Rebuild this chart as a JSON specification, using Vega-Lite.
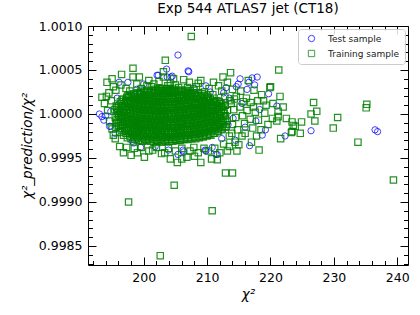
{
"$schema": "https://vega.github.io/schema/vega-lite/v6.json",
"width": 320, "height": 239,
"autosize": "none",
"padding": {"left": 88, "top": 26, "right": 12, "bottom": 50},
"config": {
  "font": "DejaVu Sans",
  "view": {"stroke": "black", "strokeWidth": 1},
  "axis": {"grid": false, "domain": false, "tickColor": "black", "labelColor": "black", "titleColor": "black", "labelFontSize": 12.5, "titleFontSize": 13.5, "titleFontWeight": "normal", "tickWidth": 1},
  "legend": {"orient": "top-right", "offset": 3, "padding": 5, "strokeColor": "#cccccc", "fillColor": "rgba(255,255,255,0.85)", "cornerRadius": 3, "labelFontSize": 9, "labelColor": "#222222", "symbolSize": 40, "symbolStrokeWidth": 1, "rowPadding": 4, "labelOffset": 12, "symbolOffset": 4}
},
"title": {"text": "Exp 544 ATLAS7 jet (CT18)", "fontSize": 13.5, "fontWeight": "normal", "offset": 5, "color": "black"},
"datasets": {
"test": [{"x":205.4,"y":1.00067},{"x":203.6,"y":1.00051},{"x":207,"y":1.00049},{"x":204.3,"y":1.00042},{"x":202.1,"y":1.00044},{"x":197.5,"y":1.00036},{"x":196.1,"y":1.00036},{"x":209.8,"y":1.00032},{"x":215.2,"y":1.0004},{"x":216.6,"y":1.00036},{"x":214.6,"y":1.00031},{"x":217.9,"y":1.00042},{"x":217.1,"y":1.00041},{"x":221,"y":1.00009},{"x":226.4,"y":0.99981},{"x":222.3,"y":0.99975},{"x":236.5,"y":0.99982},{"x":236.9,"y":0.9998},{"x":218.7,"y":0.99976},{"x":216.7,"y":0.99964},{"x":211.4,"y":0.99954},{"x":209.7,"y":0.99959},{"x":205.4,"y":0.99954},{"x":206.3,"y":0.99957},{"x":209.8,"y":0.99958},{"x":211.6,"y":0.99954},{"x":198.4,"y":0.99967},{"x":203.9,"y":0.99959},{"x":194.6,"y":0.99986},{"x":194,"y":0.99998},{"x":194.8,"y":1.00003},{"x":194.8,"y":0.99986},{"x":193,"y":1},{"x":193.4,"y":0.99997},{"x":193.7,"y":0.99993},{"x":200,"y":1.00034},{"x":202.3,"y":1.00044},{"x":203.7,"y":1.00042},{"x":204.5,"y":1.00043},{"x":207.1,"y":1.00048},{"x":212.6,"y":1.00024},{"x":217.5,"y":1.00033},{"x":219.7,"y":1.00023},{"x":206.2,"y":0.99959},{"x":210.8,"y":0.99962},{"x":213.5,"y":1.00018},{"x":214.1,"y":0.99995},{"x":215.5,"y":1.00012},{"x":216,"y":0.99985},{"x":212.3,"y":0.99972},{"x":199.5,"y":0.99962},{"x":201.8,"y":0.99963},{"x":208,"y":1.00029},{"x":210.5,"y":1.00025},{"x":198.9,"y":1.00028},{"x":213,"y":1.0003},{"x":214.9,"y":1.00034},{"x":216.3,"y":1.00028},{"x":218.3,"y":1.00005},{"x":217.7,"y":0.99992},{"x":219.2,"y":0.99982},{"x":198.2,"y":0.99969},{"x":195.5,"y":0.99978},{"x":195.8,"y":1.00018},{"x":202,"y":1.0001},{"x":206,"y":0.9999},{"x":209,"y":1.00005},{"x":204,"y":0.99975},{"x":214.5,"y":0.9997},{"x":213.3,"y":0.99988}],
"train": [
{"x":195.6,"y":0.99985},{"x":195.75,"y":0.9999},{"x":195.5,"y":0.99996},{"x":195.8,"y":1.00001},{"x":195.45,"y":1.00005},{"x":195.65,"y":1.00009},
{"x":196.2,"y":0.99979},{"x":196.35,"y":0.99984},{"x":196.1,"y":0.99989},{"x":196.4,"y":0.99994},{"x":196.05,"y":0.99999},{"x":196.25,"y":1.00004},{"x":196,"y":1.00009},{"x":196.3,"y":1.00014},
{"x":196.8,"y":0.99976},{"x":196.95,"y":0.99981},{"x":196.7,"y":0.99987},{"x":197,"y":0.99992},{"x":196.65,"y":0.99997},{"x":196.85,"y":1.00002},{"x":196.6,"y":1.00007},{"x":196.9,"y":1.00012},{"x":196.75,"y":1.00017},
{"x":197.4,"y":0.99973},{"x":197.55,"y":0.99978},{"x":197.3,"y":0.99983},{"x":197.6,"y":0.99988},{"x":197.25,"y":0.99993},{"x":197.45,"y":0.99998},{"x":197.2,"y":1.00003},{"x":197.5,"y":1.00008},{"x":197.35,"y":1.00013},{"x":197.6,"y":1.00019},
{"x":198,"y":0.99972},{"x":198.15,"y":0.99977},{"x":197.9,"y":0.99982},{"x":198.2,"y":0.99987},{"x":197.85,"y":0.99992},{"x":198.05,"y":0.99997},{"x":197.8,"y":1.00002},{"x":198.1,"y":1.00007},{"x":197.95,"y":1.00012},{"x":198.2,"y":1.00017},{"x":197.9,"y":1.00021},
{"x":198.6,"y":0.99971},{"x":198.75,"y":0.99976},{"x":198.5,"y":0.99981},{"x":198.8,"y":0.99986},{"x":198.45,"y":0.99991},{"x":198.65,"y":0.99996},{"x":198.4,"y":1.00001},{"x":198.7,"y":1.00006},{"x":198.55,"y":1.00011},{"x":198.8,"y":1.00016},{"x":198.5,"y":1.00022},
{"x":199.2,"y":0.9997},{"x":199.35,"y":0.99975},{"x":199.1,"y":0.9998},{"x":199.4,"y":0.99985},{"x":199.05,"y":0.9999},{"x":199.25,"y":0.99995},{"x":199,"y":1},{"x":199.3,"y":1.00005},{"x":199.15,"y":1.0001},{"x":199.4,"y":1.00015},{"x":199.1,"y":1.0002},{"x":199.35,"y":1.00023},
{"x":199.8,"y":0.99969},{"x":199.95,"y":0.99974},{"x":199.7,"y":0.99979},{"x":200,"y":0.99984},{"x":199.65,"y":0.99989},{"x":199.85,"y":0.99994},{"x":199.6,"y":0.99999},{"x":199.9,"y":1.00004},{"x":199.75,"y":1.00009},{"x":200,"y":1.00014},{"x":199.7,"y":1.00019},{"x":199.95,"y":1.00024},
{"x":200.4,"y":0.9997},{"x":200.55,"y":0.99975},{"x":200.3,"y":0.9998},{"x":200.6,"y":0.99985},{"x":200.25,"y":0.9999},{"x":200.45,"y":0.99995},{"x":200.2,"y":1},{"x":200.5,"y":1.00005},{"x":200.35,"y":1.0001},{"x":200.6,"y":1.00015},{"x":200.3,"y":1.0002},{"x":200.55,"y":1.00025},
{"x":201,"y":0.99969},{"x":201.15,"y":0.99974},{"x":200.9,"y":0.99979},{"x":201.2,"y":0.99984},{"x":200.85,"y":0.99989},{"x":201.05,"y":0.99994},{"x":200.8,"y":0.99999},{"x":201.1,"y":1.00004},{"x":200.95,"y":1.00009},{"x":201.2,"y":1.00014},{"x":200.9,"y":1.00019},{"x":201.15,"y":1.00024},
{"x":201.6,"y":0.99968},{"x":201.75,"y":0.99973},{"x":201.5,"y":0.99978},{"x":201.8,"y":0.99983},{"x":201.45,"y":0.99988},{"x":201.65,"y":0.99993},{"x":201.4,"y":0.99998},{"x":201.7,"y":1.00003},{"x":201.55,"y":1.00008},{"x":201.8,"y":1.00013},{"x":201.5,"y":1.00018},{"x":201.75,"y":1.00023},{"x":201.6,"y":1.00026},
{"x":202.2,"y":0.99969},{"x":202.35,"y":0.99974},{"x":202.1,"y":0.99979},{"x":202.4,"y":0.99984},{"x":202.05,"y":0.99989},{"x":202.25,"y":0.99994},{"x":202,"y":0.99999},{"x":202.3,"y":1.00004},{"x":202.15,"y":1.00009},{"x":202.4,"y":1.00014},{"x":202.1,"y":1.00019},{"x":202.35,"y":1.00024},{"x":202.2,"y":1.00027},
{"x":202.8,"y":0.99968},{"x":202.95,"y":0.99973},{"x":202.7,"y":0.99978},{"x":203,"y":0.99983},{"x":202.65,"y":0.99988},{"x":202.85,"y":0.99993},{"x":202.6,"y":0.99998},{"x":202.9,"y":1.00003},{"x":202.75,"y":1.00008},{"x":203,"y":1.00013},{"x":202.7,"y":1.00018},{"x":202.95,"y":1.00023},{"x":202.8,"y":1.00027},
{"x":203.4,"y":0.99969},{"x":203.55,"y":0.99974},{"x":203.3,"y":0.99979},{"x":203.6,"y":0.99984},{"x":203.25,"y":0.99989},{"x":203.45,"y":0.99994},{"x":203.2,"y":0.99999},{"x":203.5,"y":1.00004},{"x":203.35,"y":1.00009},{"x":203.6,"y":1.00014},{"x":203.3,"y":1.00019},{"x":203.55,"y":1.00024},{"x":203.4,"y":1.00027},
{"x":204,"y":0.99969},{"x":204.15,"y":0.99974},{"x":203.9,"y":0.99979},{"x":204.2,"y":0.99984},{"x":203.85,"y":0.99989},{"x":204.05,"y":0.99994},{"x":203.8,"y":0.99999},{"x":204.1,"y":1.00004},{"x":203.95,"y":1.00009},{"x":204.2,"y":1.00014},{"x":203.9,"y":1.00019},{"x":204.15,"y":1.00024},{"x":204,"y":1.00027},
{"x":204.6,"y":0.99969},{"x":204.75,"y":0.99974},{"x":204.5,"y":0.99979},{"x":204.8,"y":0.99984},{"x":204.45,"y":0.99989},{"x":204.65,"y":0.99994},{"x":204.4,"y":0.99999},{"x":204.7,"y":1.00004},{"x":204.55,"y":1.00009},{"x":204.8,"y":1.00014},{"x":204.5,"y":1.00019},{"x":204.75,"y":1.00024},{"x":204.6,"y":1.00026},
{"x":205.2,"y":0.9997},{"x":205.35,"y":0.99975},{"x":205.1,"y":0.9998},{"x":205.4,"y":0.99985},{"x":205.05,"y":0.9999},{"x":205.25,"y":0.99995},{"x":205,"y":1},{"x":205.3,"y":1.00005},{"x":205.15,"y":1.0001},{"x":205.4,"y":1.00015},{"x":205.1,"y":1.0002},{"x":205.35,"y":1.00025},
{"x":205.8,"y":0.9997},{"x":205.95,"y":0.99975},{"x":205.7,"y":0.9998},{"x":206,"y":0.99985},{"x":205.65,"y":0.9999},{"x":205.85,"y":0.99995},{"x":205.6,"y":1},{"x":205.9,"y":1.00005},{"x":205.75,"y":1.0001},{"x":206,"y":1.00015},{"x":205.7,"y":1.0002},{"x":205.95,"y":1.00025},
{"x":206.4,"y":0.99971},{"x":206.55,"y":0.99976},{"x":206.3,"y":0.99981},{"x":206.6,"y":0.99986},{"x":206.25,"y":0.99991},{"x":206.45,"y":0.99996},{"x":206.2,"y":1.00001},{"x":206.5,"y":1.00006},{"x":206.35,"y":1.00011},{"x":206.6,"y":1.00016},{"x":206.3,"y":1.00021},{"x":206.55,"y":1.00025},
{"x":207,"y":0.99971},{"x":207.15,"y":0.99976},{"x":206.9,"y":0.99981},{"x":207.2,"y":0.99986},{"x":206.85,"y":0.99991},{"x":207.05,"y":0.99996},{"x":206.8,"y":1.00001},{"x":207.1,"y":1.00006},{"x":206.95,"y":1.00011},{"x":207.2,"y":1.00016},{"x":206.9,"y":1.00021},{"x":207.15,"y":1.00024},
{"x":207.6,"y":0.99972},{"x":207.75,"y":0.99977},{"x":207.5,"y":0.99982},{"x":207.8,"y":0.99987},{"x":207.45,"y":0.99992},{"x":207.65,"y":0.99997},{"x":207.4,"y":1.00002},{"x":207.7,"y":1.00007},{"x":207.55,"y":1.00012},{"x":207.8,"y":1.00017},{"x":207.5,"y":1.00022},
{"x":208.2,"y":0.99972},{"x":208.35,"y":0.99977},{"x":208.1,"y":0.99982},{"x":208.4,"y":0.99987},{"x":208.05,"y":0.99992},{"x":208.25,"y":0.99997},{"x":208,"y":1.00002},{"x":208.3,"y":1.00007},{"x":208.15,"y":1.00012},{"x":208.4,"y":1.00017},{"x":208.1,"y":1.00022},
{"x":208.8,"y":0.99973},{"x":208.95,"y":0.99978},{"x":208.7,"y":0.99983},{"x":209,"y":0.99988},{"x":208.65,"y":0.99993},{"x":208.85,"y":0.99998},{"x":208.6,"y":1.00003},{"x":208.9,"y":1.00008},{"x":208.75,"y":1.00013},{"x":209,"y":1.00018},{"x":208.7,"y":1.00021},
{"x":209.4,"y":0.99974},{"x":209.55,"y":0.99979},{"x":209.3,"y":0.99984},{"x":209.6,"y":0.99989},{"x":209.25,"y":0.99994},{"x":209.45,"y":0.99999},{"x":209.2,"y":1.00004},{"x":209.5,"y":1.00009},{"x":209.35,"y":1.00014},{"x":209.6,"y":1.00019},
{"x":210,"y":0.99975},{"x":210.15,"y":0.9998},{"x":209.9,"y":0.99985},{"x":210.2,"y":0.9999},{"x":209.85,"y":0.99995},{"x":210.05,"y":1},{"x":209.8,"y":1.00005},{"x":210.1,"y":1.0001},{"x":209.95,"y":1.00015},{"x":210.2,"y":1.00018},
{"x":210.6,"y":0.99976},{"x":210.75,"y":0.99981},{"x":210.5,"y":0.99986},{"x":210.8,"y":0.99991},{"x":210.45,"y":0.99996},{"x":210.65,"y":1.00001},{"x":210.4,"y":1.00006},{"x":210.7,"y":1.00011},{"x":210.55,"y":1.00016},
{"x":211.2,"y":0.99978},{"x":211.35,"y":0.99983},{"x":211.1,"y":0.99988},{"x":211.4,"y":0.99993},{"x":211.05,"y":0.99998},{"x":211.25,"y":1.00003},{"x":211,"y":1.00008},{"x":211.3,"y":1.00013},
{"x":211.8,"y":0.9998},{"x":211.95,"y":0.99985},{"x":211.7,"y":0.9999},{"x":212,"y":0.99995},{"x":211.65,"y":1},{"x":211.85,"y":1.00005},{"x":211.6,"y":1.0001},{"x":211.9,"y":1.00014},
{"x":212.4,"y":0.99983},{"x":212.55,"y":0.99988},{"x":212.3,"y":0.99993},{"x":212.6,"y":0.99998},{"x":212.25,"y":1.00003},{"x":212.45,"y":1.00008},{"x":212.2,"y":1.00012},
{"x":213,"y":0.99986},{"x":213.15,"y":0.99992},{"x":212.9,"y":0.99998},{"x":213.2,"y":1.00004},{"x":212.85,"y":1.0001},
{"x":196,"y":0.99987},{"x":195.8,"y":0.99993},{"x":196.1,"y":0.99998},{"x":195.9,"y":1.00003},{"x":195.75,"y":1.00007},
{"x":196.6,"y":0.99981},{"x":196.4,"y":0.99987},{"x":196.7,"y":0.99991},{"x":196.5,"y":0.99997},{"x":196.35,"y":1.00002},{"x":196.65,"y":1.00007},{"x":196.45,"y":1.00012},{"x":196.55,"y":1.00016},
{"x":197.2,"y":0.99978},{"x":197,"y":0.99984},{"x":197.3,"y":0.99989},{"x":197.1,"y":0.99995},{"x":196.95,"y":1},{"x":197.25,"y":1.00005},{"x":197.05,"y":1.00009},{"x":197.15,"y":1.00015},{"x":197.3,"y":1.00019},
{"x":197.8,"y":0.99975},{"x":197.6,"y":0.99981},{"x":197.9,"y":0.99985},{"x":197.7,"y":0.99991},{"x":197.55,"y":0.99995},{"x":197.85,"y":1.00001},{"x":197.65,"y":1.00005},{"x":197.75,"y":1.00011},{"x":197.9,"y":1.00015},{"x":197.5,"y":1.00021},
{"x":198.4,"y":0.99974},{"x":198.2,"y":0.9998},{"x":198.5,"y":0.99984},{"x":198.3,"y":0.9999},{"x":198.15,"y":0.99994},{"x":198.45,"y":1},{"x":198.25,"y":1.00004},{"x":198.35,"y":1.0001},{"x":198.5,"y":1.00014},{"x":198.1,"y":1.0002},{"x":198.4,"y":1.00023},
{"x":199,"y":0.99973},{"x":198.8,"y":0.99979},{"x":199.1,"y":0.99983},{"x":198.9,"y":0.99989},{"x":198.75,"y":0.99993},{"x":199.05,"y":0.99999},{"x":198.85,"y":1.00003},{"x":198.95,"y":1.00009},{"x":199.1,"y":1.00013},{"x":198.7,"y":1.00019},{"x":199,"y":1.00024},
{"x":199.6,"y":0.99972},{"x":199.4,"y":0.99978},{"x":199.7,"y":0.99982},{"x":199.5,"y":0.99988},{"x":199.35,"y":0.99992},{"x":199.65,"y":0.99998},{"x":199.45,"y":1.00002},{"x":199.55,"y":1.00008},{"x":199.7,"y":1.00012},{"x":199.3,"y":1.00018},{"x":199.6,"y":1.00022},{"x":199.5,"y":1.00025},
{"x":200.2,"y":0.99971},{"x":200,"y":0.99977},{"x":200.3,"y":0.99981},{"x":200.1,"y":0.99987},{"x":199.95,"y":0.99991},{"x":200.25,"y":0.99997},{"x":200.05,"y":1.00001},{"x":200.15,"y":1.00007},{"x":200.3,"y":1.00011},{"x":199.9,"y":1.00017},{"x":200.2,"y":1.00021},{"x":200.1,"y":1.00026},
{"x":200.8,"y":0.99972},{"x":200.6,"y":0.99978},{"x":200.9,"y":0.99982},{"x":200.7,"y":0.99988},{"x":200.55,"y":0.99992},{"x":200.85,"y":0.99998},{"x":200.65,"y":1.00002},{"x":200.75,"y":1.00008},{"x":200.9,"y":1.00012},{"x":200.5,"y":1.00018},{"x":200.8,"y":1.00022},{"x":200.7,"y":1.00027},
{"x":201.4,"y":0.99971},{"x":201.2,"y":0.99977},{"x":201.5,"y":0.99981},{"x":201.3,"y":0.99987},{"x":201.15,"y":0.99991},{"x":201.45,"y":0.99997},{"x":201.25,"y":1.00001},{"x":201.35,"y":1.00007},{"x":201.5,"y":1.00011},{"x":201.1,"y":1.00017},{"x":201.4,"y":1.00021},{"x":201.3,"y":1.00026},
{"x":202,"y":0.9997},{"x":201.8,"y":0.99976},{"x":202.1,"y":0.9998},{"x":201.9,"y":0.99986},{"x":201.75,"y":0.9999},{"x":202.05,"y":0.99996},{"x":201.85,"y":1},{"x":201.95,"y":1.00006},{"x":202.1,"y":1.0001},{"x":201.7,"y":1.00016},{"x":202,"y":1.0002},{"x":201.9,"y":1.00026},{"x":201.8,"y":1.00028},
{"x":202.6,"y":0.99971},{"x":202.4,"y":0.99977},{"x":202.7,"y":0.99981},{"x":202.5,"y":0.99987},{"x":202.35,"y":0.99991},{"x":202.65,"y":0.99997},{"x":202.45,"y":1.00001},{"x":202.55,"y":1.00007},{"x":202.7,"y":1.00011},{"x":202.3,"y":1.00017},{"x":202.6,"y":1.00021},{"x":202.5,"y":1.00026},{"x":202.4,"y":1.00029},
{"x":203.2,"y":0.9997},{"x":203,"y":0.99976},{"x":203.3,"y":0.9998},{"x":203.1,"y":0.99986},{"x":202.95,"y":0.9999},{"x":203.25,"y":0.99996},{"x":203.05,"y":1},{"x":203.15,"y":1.00006},{"x":203.3,"y":1.0001},{"x":202.9,"y":1.00016},{"x":203.2,"y":1.0002},{"x":203.1,"y":1.00026},{"x":203,"y":1.00029},
{"x":203.8,"y":0.99971},{"x":203.6,"y":0.99977},{"x":203.9,"y":0.99981},{"x":203.7,"y":0.99987},{"x":203.55,"y":0.99991},{"x":203.85,"y":0.99997},{"x":203.65,"y":1.00001},{"x":203.75,"y":1.00007},{"x":203.9,"y":1.00011},{"x":203.5,"y":1.00017},{"x":203.8,"y":1.00021},{"x":203.7,"y":1.00026},{"x":203.6,"y":1.00029},
{"x":204.4,"y":0.99971},{"x":204.2,"y":0.99977},{"x":204.5,"y":0.99981},{"x":204.3,"y":0.99987},{"x":204.15,"y":0.99991},{"x":204.45,"y":0.99997},{"x":204.25,"y":1.00001},{"x":204.35,"y":1.00007},{"x":204.5,"y":1.00011},{"x":204.1,"y":1.00017},{"x":204.4,"y":1.00021},{"x":204.3,"y":1.00026},{"x":204.2,"y":1.00029},
{"x":205,"y":0.99971},{"x":204.8,"y":0.99977},{"x":205.1,"y":0.99981},{"x":204.9,"y":0.99987},{"x":204.75,"y":0.99991},{"x":205.05,"y":0.99997},{"x":204.85,"y":1.00001},{"x":204.95,"y":1.00007},{"x":205.1,"y":1.00011},{"x":204.7,"y":1.00017},{"x":205,"y":1.00021},{"x":204.9,"y":1.00026},{"x":204.8,"y":1.00028},
{"x":205.6,"y":0.99972},{"x":205.4,"y":0.99978},{"x":205.7,"y":0.99982},{"x":205.5,"y":0.99988},{"x":205.35,"y":0.99992},{"x":205.65,"y":0.99998},{"x":205.45,"y":1.00002},{"x":205.55,"y":1.00008},{"x":205.7,"y":1.00012},{"x":205.3,"y":1.00018},{"x":205.6,"y":1.00022},{"x":205.5,"y":1.00027},
{"x":206.2,"y":0.99972},{"x":206,"y":0.99978},{"x":206.3,"y":0.99982},{"x":206.1,"y":0.99988},{"x":205.95,"y":0.99992},{"x":206.25,"y":0.99998},{"x":206.05,"y":1.00002},{"x":206.15,"y":1.00008},{"x":206.3,"y":1.00012},{"x":205.9,"y":1.00018},{"x":206.2,"y":1.00022},{"x":206.1,"y":1.00027},
{"x":206.8,"y":0.99973},{"x":206.6,"y":0.99979},{"x":206.9,"y":0.99983},{"x":206.7,"y":0.99989},{"x":206.55,"y":0.99993},{"x":206.85,"y":0.99999},{"x":206.65,"y":1.00003},{"x":206.75,"y":1.00009},{"x":206.9,"y":1.00013},{"x":206.5,"y":1.00019},{"x":206.8,"y":1.00023},{"x":206.7,"y":1.00027},
{"x":207.4,"y":0.99973},{"x":207.2,"y":0.99979},{"x":207.5,"y":0.99983},{"x":207.3,"y":0.99989},{"x":207.15,"y":0.99993},{"x":207.45,"y":0.99999},{"x":207.25,"y":1.00003},{"x":207.35,"y":1.00009},{"x":207.5,"y":1.00013},{"x":207.1,"y":1.00019},{"x":207.4,"y":1.00023},{"x":207.3,"y":1.00026},
{"x":208,"y":0.99974},{"x":207.8,"y":0.9998},{"x":208.1,"y":0.99984},{"x":207.9,"y":0.9999},{"x":207.75,"y":0.99994},{"x":208.05,"y":1},{"x":207.85,"y":1.00004},{"x":207.95,"y":1.0001},{"x":208.1,"y":1.00014},{"x":207.7,"y":1.0002},{"x":208,"y":1.00024},
{"x":208.6,"y":0.99974},{"x":208.4,"y":0.9998},{"x":208.7,"y":0.99984},{"x":208.5,"y":0.9999},{"x":208.35,"y":0.99994},{"x":208.65,"y":1},{"x":208.45,"y":1.00004},{"x":208.55,"y":1.0001},{"x":208.7,"y":1.00014},{"x":208.3,"y":1.0002},{"x":208.6,"y":1.00024},
{"x":209.2,"y":0.99975},{"x":209,"y":0.99981},{"x":209.3,"y":0.99985},{"x":209.1,"y":0.99991},{"x":208.95,"y":0.99995},{"x":209.25,"y":1.00001},{"x":209.05,"y":1.00005},{"x":209.15,"y":1.00011},{"x":209.3,"y":1.00015},{"x":208.9,"y":1.0002},{"x":209.2,"y":1.00023},
{"x":209.8,"y":0.99976},{"x":209.6,"y":0.99982},{"x":209.9,"y":0.99986},{"x":209.7,"y":0.99992},{"x":209.55,"y":0.99996},{"x":209.85,"y":1.00002},{"x":209.65,"y":1.00006},{"x":209.75,"y":1.00012},{"x":209.9,"y":1.00016},{"x":209.5,"y":1.00021},
{"x":210.4,"y":0.99977},{"x":210.2,"y":0.99983},{"x":210.5,"y":0.99987},{"x":210.3,"y":0.99993},{"x":210.15,"y":0.99997},{"x":210.45,"y":1.00003},{"x":210.25,"y":1.00007},{"x":210.35,"y":1.00013},{"x":210.5,"y":1.00017},{"x":210.1,"y":1.0002},
{"x":211,"y":0.99978},{"x":210.8,"y":0.99984},{"x":211.1,"y":0.99988},{"x":210.9,"y":0.99994},{"x":210.75,"y":0.99998},{"x":211.05,"y":1.00004},{"x":210.85,"y":1.00008},{"x":210.95,"y":1.00014},{"x":211.1,"y":1.00018},
{"x":211.6,"y":0.9998},{"x":211.4,"y":0.99986},{"x":211.7,"y":0.9999},{"x":211.5,"y":0.99996},{"x":211.35,"y":1},{"x":211.65,"y":1.00006},{"x":211.45,"y":1.0001},{"x":211.55,"y":1.00015},
{"x":212.2,"y":0.99982},{"x":212,"y":0.99988},{"x":212.3,"y":0.99992},{"x":212.1,"y":0.99998},{"x":211.95,"y":1.00002},{"x":212.25,"y":1.00008},{"x":212.05,"y":1.00012},
{"x":212.8,"y":0.99985},{"x":212.6,"y":0.99991},{"x":212.9,"y":0.99995},{"x":212.7,"y":1.00001},{"x":212.55,"y":1.00005},{"x":212.85,"y":1.0001},
{"x":207.5,"y":1.00088},{"x":203.4,"y":1.00061},{"x":198.3,"y":1.00052},{"x":196.5,"y":1.00045},{"x":195,"y":1.0004},{"x":198.3,"y":1.00042},{"x":203.1,"y":1.00048},{"x":203.1,"y":1.00042},{"x":213.7,"y":1.00047},{"x":212.5,"y":1.00042},{"x":211,"y":1.00036},{"x":207.2,"y":1.00036},{"x":201.6,"y":1.00034},{"x":221.3,"y":1.0005},{"x":219.9,"y":1.0003},{"x":221.5,"y":1.0002},{"x":199.3,"y":1.00042},{"x":194.2,"y":1.00036},{"x":195.2,"y":1.00031},{"x":193.4,"y":1.00019},{"x":193.8,"y":1.00012},{"x":194.5,"y":1.00024},{"x":195.6,"y":1.00027},{"x":196.4,"y":1.00033},{"x":197.2,"y":1.00029},{"x":198.9,"y":1.00034},{"x":200.5,"y":1.00032},{"x":202.4,"y":1.00037},{"x":204.2,"y":1.00035},{"x":205.5,"y":1.0003},{"x":206.3,"y":1.00039},{"x":208.3,"y":1.00031},{"x":209,"y":1.00038},{"x":210.3,"y":1.00029},{"x":211.8,"y":1.00032},{"x":212.3,"y":1.00026},{"x":213.2,"y":1.00036},{"x":214,"y":1.00028},{"x":214.6,"y":1.0002},{"x":215.3,"y":1.00026},{"x":216.2,"y":1.00018},{"x":216.5,"y":1.00038},{"x":217.4,"y":1.00027},{"x":218,"y":1.00015},{"x":218.6,"y":1.00022},{"x":219.3,"y":1.0001},{"x":220,"y":1.00031},{"x":220.4,"y":1.00012},{"x":221.2,"y":1.00003},{"x":221,"y":0.99992},{"x":221.2,"y":0.99997},{"x":222,"y":1.00008},
{"x":197.8,"y":1.00026},{"x":199.6,"y":1.00029},{"x":201.2,"y":1.00031},{"x":203.8,"y":1.00032},{"x":205,"y":1.00033},{"x":206.9,"y":1.0003},{"x":207.9,"y":1.00027},{"x":209.6,"y":1.00025},{"x":210.9,"y":1.00022},{"x":212.8,"y":1.0002},{"x":213.6,"y":1.00015},{"x":200.8,"y":1.00038},{"x":204.7,"y":1.0004},{"x":208.6,"y":1.00035},
{"x":213.8,"y":1.00012},{"x":214.2,"y":1.00005},{"x":214.5,"y":0.99996},{"x":214,"y":0.99988},{"x":214.8,"y":0.99982},{"x":215.2,"y":1.00008},{"x":215.6,"y":0.99998},{"x":215.9,"y":0.99989},{"x":215.5,"y":0.99975},{"x":216.3,"y":1.00004},{"x":216.8,"y":0.99994},{"x":217.2,"y":0.99984},{"x":216.9,"y":1.00013},{"x":217.6,"y":1.00002},{"x":218.1,"y":0.99993},{"x":218.5,"y":0.99982},{"x":219.1,"y":1.00001},{"x":219.6,"y":0.99988},{"x":220.3,"y":0.99995},{"x":213.5,"y":0.99975},{"x":214.4,"y":0.99968},{"x":213.2,"y":0.99958},{"x":213.9,"y":0.99978},{"x":215,"y":0.99965},{"x":216,"y":0.99978},{"x":217,"y":0.99968},{"x":217.8,"y":0.99975},{"x":214.3,"y":1.00017},{"x":215.7,"y":1.00014},{"x":217.3,"y":1.00008},{"x":218.9,"y":1.00015},
{"x":226.8,"y":1.00013},{"x":235.2,"y":1.00011},{"x":235.1,"y":1.00007},{"x":227.3,"y":1.00003},{"x":226.4,"y":1},{"x":230.6,"y":0.99996},{"x":227,"y":0.99992},{"x":229.9,"y":0.99984},{"x":224.7,"y":0.99978},{"x":223.3,"y":0.99979},{"x":224.9,"y":0.99991},{"x":223.6,"y":0.99987},{"x":233.8,"y":0.99968},{"x":221.6,"y":0.99972},{"x":239.4,"y":0.99925},{"x":223.4,"y":0.99991},{"x":223.9,"y":0.99986},{"x":223.4,"y":0.9998},{"x":222.5,"y":0.99995},
{"x":196.8,"y":0.99956},{"x":198,"y":0.99953},{"x":199,"y":0.99956},{"x":200.1,"y":0.99951},{"x":201.4,"y":0.99959},{"x":203.3,"y":0.99956},{"x":204.2,"y":0.99949},{"x":205.3,"y":0.99945},{"x":206.8,"y":0.99951},{"x":209,"y":0.99945},{"x":210.7,"y":0.99949},{"x":212.9,"y":0.99933},{"x":214,"y":0.99933},{"x":204.8,"y":0.99919},{"x":197.6,"y":0.999},{"x":210.8,"y":0.9989},{"x":202.6,"y":0.99839},{"x":218.2,"y":0.99959},{"x":214.7,"y":0.99958},{"x":213.5,"y":0.99963},{"x":195.5,"y":0.99972},{"x":196.2,"y":0.99963},{"x":197.3,"y":0.99962},{"x":198.5,"y":0.99961},{"x":199.6,"y":0.99962},{"x":200.8,"y":0.99958},{"x":202,"y":0.99962},{"x":202.8,"y":0.99955},{"x":203.9,"y":0.99961},{"x":205,"y":0.99958},{"x":206,"y":0.99961},{"x":207.3,"y":0.99958},{"x":207.9,"y":0.99962},{"x":208.6,"y":0.99956},{"x":209.5,"y":0.99961},{"x":210.2,"y":0.99958},{"x":211.2,"y":0.99961},{"x":212,"y":0.99956},{"x":212.6,"y":0.99966},{"x":211.6,"y":0.99948},{"x":208,"y":0.99952},{"x":206,"y":0.99949},
{"x":194.3,"y":1.00004},{"x":194.6,"y":0.99992},{"x":195,"y":0.99983},{"x":194.9,"y":1.00015},{"x":195.2,"y":0.99976},{"x":194.1,"y":1.0002}
]
},
"layer": [
{"data": {"name": "test"},
 "mark": {"type": "point", "filled": false, "size": 40, "strokeWidth": 1, "opacity": 0.75},
 "encoding": {
  "x": {"field": "x", "type": "quantitative", "scale": {"domain": [191.2, 241.7], "zero": false, "nice": false}, "axis": {"orient": "bottom", "values": [200,210,220,230,240], "ticks": false, "labelPadding": 6, "title": "χ²", "titleFontStyle": "italic", "titlePadding": 4}},
  "y": {"field": "y", "type": "quantitative", "scale": {"domain": [0.998284, 1.001], "zero": false, "nice": false}, "axis": {"orient": "left", "values": [0.9985,0.999,0.9995,1,1.0005,1.001], "format": ".4f", "ticks": false, "labelPadding": 6, "title": "χ²_prediction/χ²", "titleFontStyle": "italic", "titlePadding": 4}},
  "color": {"datum": "Test sample", "scale": {"domain": ["Test sample", "Training sample"], "range": ["blue", "green"]}, "legend": {"title": null}},
  "shape": {"datum": "Test sample", "scale": {"domain": ["Test sample", "Training sample"], "range": ["circle", "square"]}, "legend": {"title": null}}
 }},
{"data": {"name": "train"},
 "mark": {"type": "point", "filled": false, "size": 40, "strokeWidth": 1.2, "opacity": 0.85},
 "encoding": {
  "x": {"field": "x", "type": "quantitative", "scale": {"domain": [191.2, 241.7], "zero": false, "nice": false}, "axis": {"orient": "bottom", "values": [200,210,220,230,240], "labels": false, "tickSize": -8, "title": null}},
  "y": {"field": "y", "type": "quantitative", "scale": {"domain": [0.998284, 1.001], "zero": false, "nice": false}, "axis": {"orient": "left", "values": [0.9985,0.999,0.9995,1,1.0005,1.001], "labels": false, "tickSize": -8, "title": null}},
  "color": {"datum": "Training sample"},
  "shape": {"datum": "Training sample"}
 }},
{"data": {"name": "test"},
 "mark": {"type": "point", "opacity": 0},
 "encoding": {
  "x": {"field": "x", "type": "quantitative", "scale": {"domain": [191.2, 241.7], "zero": false, "nice": false}, "axis": {"orient": "bottom", "values": [192,194,196,198,202,204,206,208,212,214,216,218,222,224,226,228,232,234,236,238], "labels": false, "tickSize": -4.5, "title": null}},
  "y": {"field": "y", "type": "quantitative", "scale": {"domain": [0.998284, 1.001], "zero": false, "nice": false}, "axis": {"orient": "left", "values": [0.9983,0.9984,0.9986,0.9987,0.9988,0.9989,0.9991,0.9992,0.9993,0.9994,0.9996,0.9997,0.9998,0.9999,1.0001,1.0002,1.0003,1.0004,1.0006,1.0007,1.0008,1.0009], "labels": false, "tickSize": -4.5, "title": null}}
 }},
{"data": {"name": "test"},
 "mark": {"type": "point", "opacity": 0},
 "encoding": {
  "x": {"field": "x", "type": "quantitative", "scale": {"domain": [191.2, 241.7], "zero": false, "nice": false}, "axis": {"orient": "top", "values": [200,210,220,230,240], "labels": false, "tickSize": -8, "title": null}},
  "y": {"field": "y", "type": "quantitative", "scale": {"domain": [0.998284, 1.001], "zero": false, "nice": false}, "axis": {"orient": "right", "values": [0.9985,0.999,0.9995,1,1.0005,1.001], "labels": false, "tickSize": -8, "title": null}}
 }},
{"data": {"name": "test"},
 "mark": {"type": "point", "opacity": 0},
 "encoding": {
  "x": {"field": "x", "type": "quantitative", "scale": {"domain": [191.2, 241.7], "zero": false, "nice": false}, "axis": {"orient": "top", "values": [192,194,196,198,202,204,206,208,212,214,216,218,222,224,226,228,232,234,236,238], "labels": false, "tickSize": -4.5, "title": null}},
  "y": {"field": "y", "type": "quantitative", "scale": {"domain": [0.998284, 1.001], "zero": false, "nice": false}, "axis": {"orient": "right", "values": [0.9983,0.9984,0.9986,0.9987,0.9988,0.9989,0.9991,0.9992,0.9993,0.9994,0.9996,0.9997,0.9998,0.9999,1.0001,1.0002,1.0003,1.0004,1.0006,1.0007,1.0008,1.0009], "labels": false, "tickSize": -4.5, "title": null}}
 }},
{"mark": {"type": "rule", "strokeDash": [5, 2.5], "color": "black", "strokeWidth": 1.3},
 "encoding": {"y": {"datum": 1, "type": "quantitative", "scale": {"domain": [0.998284, 1.001], "zero": false, "nice": false}, "axis": null}}}
],
"resolve": {"axis": {"x": "independent", "y": "independent"}}
}
